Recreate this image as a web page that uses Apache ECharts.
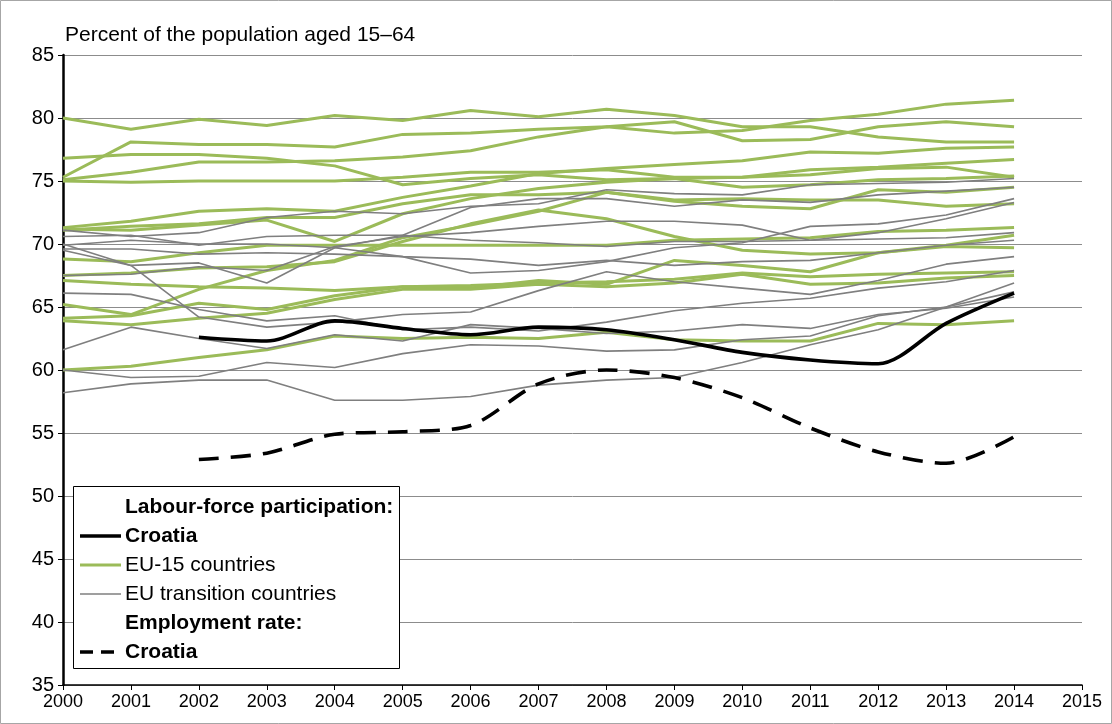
<!DOCTYPE html>
<html>
<head>
<meta charset="utf-8">
<script src="https://cdn.jsdelivr.net/npm/echarts@6/dist/echarts.min.js"></script>
<style>
  html, body { margin: 0; padding: 0; background: #fff; }
  #main { width: 1112px; height: 724px; }
</style>
</head>
<body>
<div id="main"></div>
<script>
// years on the x axis
var years = [2000, 2001, 2002, 2003, 2004, 2005, 2006, 2007, 2008, 2009, 2010, 2011, 2012, 2013, 2014];
var xTicks = [2000, 2001, 2002, 2003, 2004, 2005, 2006, 2007, 2008, 2009, 2010, 2011, 2012, 2013, 2014, 2015];
var yTicks = [35, 40, 45, 50, 55, 60, 65, 70, 75, 80, 85];

// Croatia (2000, 2001 missing)
var croatiaLabour = [null, null, 62.6, 62.3, 63.9, 63.3, 62.8, 63.4, 63.2, 62.4, 61.4, 60.8, 60.5, 63.7, 66.1];
var croatiaEmployment = [null, null, 52.9, 53.4, 54.9, 55.1, 55.6, 58.9, 60.0, 59.4, 57.8, 55.4, 53.5, 52.6, 54.7];

// EU-15 countries, labour-force participation
var eu15DK = [80.0, 79.1, 79.9, 79.4, 80.2, 79.8, 80.6, 80.1, 80.7, 80.2, 79.3, 79.3, 78.5, 78.1, 78.1];
var eu15NL = [75.3, 78.1, 77.9, 77.9, 77.7, 78.7, 78.8, 79.1, 79.3, 79.7, 78.2, 78.3, 79.3, 79.7, 79.3];
var eu15SE = [75.1, 75.7, 76.5, 76.5, 76.6, 76.9, 77.4, 78.5, 79.3, 78.8, 79.0, 79.8, 80.3, 81.1, 81.4];
var eu15FI = [75.0, 74.9, 75.0, 75.0, 75.0, 75.3, 75.7, 75.7, 75.9, 75.3, 75.3, 75.5, 76.0, 76.1, 75.3];
var eu15UK = [76.8, 77.1, 77.1, 76.8, 76.2, 74.7, 75.2, 75.5, 75.1, 75.2, 74.5, 74.7, 75.1, 75.2, 75.4];
var eu15DE = [71.3, 71.8, 72.6, 72.8, 72.6, 73.7, 74.6, 75.6, 76.0, 76.3, 76.6, 77.3, 77.2, 77.6, 77.7];
var eu15AT = [71.2, 71.1, 71.5, 71.9, 70.2, 72.4, 73.6, 74.4, 74.9, 75.2, 75.3, 75.9, 76.1, 76.4, 76.7];
var eu15PT = [71.1, 71.4, 71.6, 72.1, 72.1, 73.2, 73.9, 73.9, 74.1, 73.5, 73.6, 73.5, 73.5, 73.0, 73.2];
var eu15ES = [65.2, 64.4, 66.4, 67.9, 68.7, 70.5, 71.5, 72.6, 74.1, 73.4, 73.0, 72.8, 74.3, 74.1, 74.5];
var eu15FR = [68.8, 68.6, 69.3, 69.9, 69.9, 69.9, 69.9, 69.9, 69.9, 70.3, 70.4, 70.5, 71.0, 71.1, 71.3];
var eu15IE = [67.5, 67.7, 68.1, 68.2, 68.6, 70.2, 71.6, 72.7, 72.0, 70.6, 69.5, 69.2, 69.3, 69.8, 69.7];
var eu15LU = [64.1, 64.3, 65.3, 64.8, 65.9, 66.6, 66.5, 67.1, 66.8, 68.7, 68.3, 67.8, 69.3, 69.9, 70.7];
var eu15BE = [63.9, 63.6, 64.1, 64.5, 65.6, 66.4, 66.4, 66.8, 66.6, 66.9, 67.6, 66.8, 66.9, 67.3, 67.5];
var eu15GR = [67.1, 66.8, 66.6, 66.5, 66.3, 66.6, 66.7, 66.9, 67.0, 67.2, 67.7, 67.4, 67.6, 67.7, 67.8];
var eu15IT = [60.0, 60.3, 61.0, 61.6, 62.7, 62.5, 62.6, 62.5, 63.0, 62.4, 62.3, 62.3, 63.7, 63.6, 63.9];

// EU transition countries, labour-force participation
var trEE = [71.1, 70.6, 70.9, 72.1, 72.6, 72.4, 73.0, 73.2, 74.3, 74.0, 73.9, 74.7, 74.8, 74.9, 75.2];
var trLV = [69.5, 68.3, 68.5, 66.9, 69.7, 70.7, 72.9, 73.6, 73.6, 73.0, 73.5, 73.3, 73.9, 74.2, 74.5];
var trLT = [69.6, 69.6, 69.2, 69.3, 69.2, 69.0, 67.7, 67.9, 68.6, 69.7, 70.1, 71.4, 71.6, 72.3, 73.6];
var trCZ = [70.6, 70.7, 69.9, 70.6, 70.7, 70.7, 70.3, 70.1, 69.8, 70.2, 70.2, 70.3, 70.9, 72.0, 73.3];
var trSI = [67.5, 67.6, 68.2, 67.9, 69.8, 70.6, 70.9, 71.4, 71.8, 71.8, 71.5, 70.3, 70.4, 70.5, 70.9];
var trSK = [69.9, 70.3, 70.0, 70.0, 69.7, 69.0, 68.8, 68.3, 68.7, 68.3, 68.6, 68.7, 69.3, 69.9, 70.3];
var trRO = [70.0, 68.3, 64.2, 63.4, 63.8, 64.4, 64.6, 66.3, 67.8, 67.0, 66.5, 66.0, 67.1, 68.4, 69.0];
var trBG = [61.6, 63.4, 62.5, 61.7, 62.8, 62.3, 63.6, 63.3, 62.9, 63.1, 63.6, 63.3, 64.4, 64.9, 65.8];
var trPL = [66.1, 66.0, 64.8, 63.9, 64.3, 63.2, 63.4, 63.1, 63.8, 64.7, 65.3, 65.7, 66.5, 67.0, 67.9];
var trHU = [60.0, 59.4, 59.5, 60.6, 60.2, 61.3, 62.0, 61.9, 61.5, 61.6, 62.4, 62.7, 64.3, 65.0, 66.9];
var trMT = [58.2, 58.9, 59.2, 59.2, 57.6, 57.6, 57.9, 58.8, 59.2, 59.4, 60.6, 62.0, 63.2, 65.0, 66.2];

var eu15List = [eu15DK, eu15NL, eu15SE, eu15FI, eu15UK, eu15DE, eu15AT, eu15PT, eu15ES, eu15FR, eu15IE, eu15LU, eu15BE, eu15GR, eu15IT];
var transitionList = [trEE, trLV, trLT, trCZ, trSI, trSK, trRO, trBG, trPL, trHU, trMT];

var GREEN = '#9bbb59';
var GREY = '#7f7f7f';
var FONT = '"Liberation Sans", Arial, sans-serif';

function pairs(values){
	var out = [];
	for (var i = 0; i < years.length; i++){
		if (values[i] == null) continue;
		out.push([years[i], values[i]]);
	}
	return out;
}

function lineSeries(values, color, width, extra){
	var s = {
		type: 'line',
		data: pairs(values),
		symbol: 'none',
		silent: true,
		lineStyle: { color: color, width: width },
		z: 2
	};
	for (var k in extra){ s[k] = extra[k]; }
	return s;
}

var series = [];
eu15List.forEach(function(v){ series.push(lineSeries(v, GREEN, 3, {})); });
transitionList.forEach(function(v){ series.push(lineSeries(v, GREY, 1.6, {})); });
series.push(lineSeries(croatiaLabour, '#000', 3.6, { smooth: 0.3, z: 4 }));
var dashed = lineSeries(croatiaEmployment, '#000', 3.6, { smooth: 0.3, z: 4 });
dashed.lineStyle.type = [20, 12];
series.push(dashed);

// legend box, drawn by hand because of its two header rows
var lgX = 73, lgY = 486, lgRow = 29;
var legendRows = [
	{ text: 'Labour-force participation:', bold: true },
	{ text: 'Croatia', bold: true, line: { color: '#000', width: 3.6 } },
	{ text: 'EU-15 countries', line: { color: GREEN, width: 3 } },
	{ text: 'EU transition countries', line: { color: GREY, width: 1.6 } },
	{ text: 'Employment rate:', bold: true },
	{ text: 'Croatia', bold: true, line: { color: '#000', width: 3.6, type: [13, 8] } }
];
var graphics = [
	{ type: 'rect', shape: { x: 0.5, y: 0.5, width: 1111, height: 723 }, style: { fill: 'none', stroke: '#a6a6a6', lineWidth: 1 }, silent: true },
	{ type: 'text', x: 65, y: 35, style: { text: 'Percent of the population aged 15\u201364', font: '21px ' + FONT, fill: '#000', textVerticalAlign: 'middle' } },
	{ type: 'rect', shape: { x: lgX + 0.5, y: lgY + 0.5, width: 326, height: 182 }, style: { fill: '#fff', stroke: '#000', lineWidth: 1 }, z: 10 }
];
legendRows.forEach(function(r, i){
	var cy = lgY + 21 + i * lgRow;
	if (r.line){
		graphics.push({ type: 'line', shape: { x1: lgX + 7, y1: cy, x2: lgX + 48, y2: cy }, style: { stroke: r.line.color, lineWidth: r.line.width, lineDash: r.line.type || null }, z: 11 });
	}
	graphics.push({ type: 'text', x: lgX + 52, y: cy, style: { text: r.text, font: (r.bold ? 'bold ' : '') + '21px ' + FONT, fill: '#000', textVerticalAlign: 'middle' }, z: 11 });
});

var chart = echarts.init(document.getElementById('main'), null, { renderer: 'canvas' });
chart.setOption({
	animation: false,
	backgroundColor: '#fff',
	grid: { left: 63, right: 30, top: 55, bottom: 39 },
	xAxis: {
		type: 'value',
		min: xTicks[0],
		max: xTicks[xTicks.length - 1],
		interval: 1,
		axisLine: { show: true, onZero: false, lineStyle: { color: '#000', width: 1.5 } },
		axisTick: { show: true, length: 5, lineStyle: { color: '#000' } },
		axisLabel: { color: '#000', fontSize: 18, fontFamily: FONT, margin: 8, formatter: function(v){ return String(v); } },
		splitLine: { show: false }
	},
	yAxis: {
		type: 'value',
		min: yTicks[0],
		max: yTicks[yTicks.length - 1],
		interval: 5,
		axisLine: { show: true, lineStyle: { color: '#000', width: 2.5 } },
		axisTick: { show: true, length: 5, lineStyle: { color: '#000' } },
		axisLabel: { color: '#000', fontSize: 20, fontFamily: FONT, margin: 9 },
		splitLine: { show: true, lineStyle: { color: '#8c8c8c', width: 1 } }
	},
	graphic: graphics,
	series: series
});
</script>
</body>
</html>
